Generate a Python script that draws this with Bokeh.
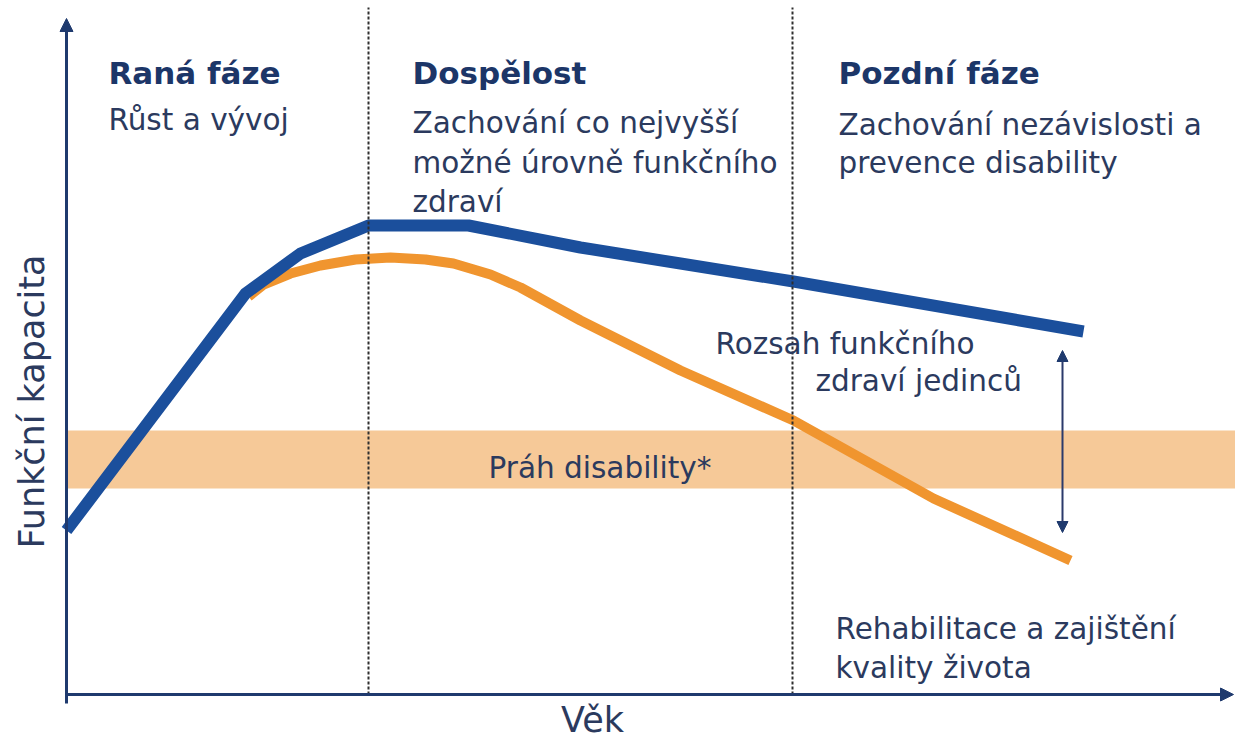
from bokeh.plotting import figure
from bokeh.models import Range1d, Arrow, NormalHead
from bokeh.core.properties import value
from bokeh.embed import file_html
from bokeh.resources import INLINE
import math

# ---------------- data (y = capacity, up) ----------------
# Individual with highest functional capacity (blue)
blue_age = [66, 245, 300, 368, 468, 580, 680, 793, 1083]
blue_cap = [211, 448, 488, 516, 516, 494, 478, 460, 410]

# Individual with declining capacity (orange)
orange_age = [248, 263, 290, 320, 355, 390, 425, 453, 490, 520, 580, 680, 793, 933, 1070]
orange_cap = [445, 457, 468, 476, 482, 484, 482, 478, 467, 454, 421, 371, 321, 243, 181]

# Disability threshold band
band_low, band_high = 253, 311
band_left, band_right = 66, 1240

# Phase boundaries
phase_bounds = [368, 792]
bound_top, bound_bottom = 734, 47

# Axes
axis_x0, axis_y0 = 66, 47
yaxis_bottom, yaxis_top = 38, 723
xaxis_right = 1233

# Range of functional health arrow
range_x, range_top, range_bottom = 1062, 391, 209

# Texts
phase_titles = ["Raná fáze", "Dospělost", "Pozdní fáze"]
phase_title_x = [108, 412, 838]
phase_title_y = [659, 659, 659]

body_texts = ["Růst a vývoj", "Zachování co nejvyšší", "možné úrovně funkčního", "zdraví",
              "Zachování nezávislosti a", "prevence disability",
              "Rozsah funkčního", "zdraví jedinců", "Práh disability*",
              "Rehabilitace a zajištění", "kvality života"]
body_x = [108, 412, 412, 412, 838, 838, 715, 815, 488, 835, 835]
body_y = [612, 609, 569, 530, 607, 569, 388, 351, 264, 103, 64]

x_label, x_label_x, x_label_y = "Věk", 592, 6
y_label, y_label_x, y_label_y = "Funkční kapacita", 43, 340

# ---------------- styles ----------------
FONT = "DejaVu Sans"
NAVY = "#1f3a6e"
TEXT_C = "#2b3a5e"
TITLE_C = "#1c3668"
BLUE = "#1b4f9c"
ORANGE = "#f0952f"
BAND = "#f6c998"

p = figure(width=1235, height=741, output_backend="svg", toolbar_location=None,
           x_range=Range1d(0, 1235), y_range=Range1d(0, 741),
           min_border=0, min_border_left=0, min_border_right=0,
           min_border_top=0, min_border_bottom=0)
p.axis.visible = False
p.grid.visible = False
p.outline_line_color = None
p.background_fill_color = "white"
p.border_fill_color = "white"

# band
p.quad(left=[band_left], right=[band_right], bottom=[band_low], top=[band_high],
       fill_color=BAND, line_color=None)

# curves
p.line(orange_age, orange_cap, line_color=ORANGE, line_width=10, line_join="round", line_cap="butt")
p.line(blue_age, blue_cap, line_color=BLUE, line_width=12, line_join="round", line_cap="butt")

# phase boundaries (dotted)
for bx in phase_bounds:
    p.line([bx, bx], [bound_bottom, bound_top], line_color="#2e2e2e", line_width=2, line_dash="3 2")

# axes with arrows
p.add_layout(Arrow(end=NormalHead(size=13, fill_color=NAVY, line_color=NAVY),
                   x_start=axis_x0, y_start=yaxis_bottom, x_end=axis_x0, y_end=yaxis_top,
                   line_color=NAVY, line_width=3))
p.add_layout(Arrow(end=NormalHead(size=13, fill_color=NAVY, line_color=NAVY),
                   x_start=axis_x0, y_start=axis_y0, x_end=xaxis_right, y_end=axis_y0,
                   line_color=NAVY, line_width=3))

# range arrow
p.add_layout(Arrow(start=NormalHead(size=11, fill_color=NAVY, line_color=NAVY),
                   end=NormalHead(size=11, fill_color=NAVY, line_color=NAVY),
                   x_start=range_x, y_start=range_bottom, x_end=range_x, y_end=range_top,
                   line_color="#2b3a6b", line_width=2))

# texts
p.text(x=phase_title_x, y=phase_title_y, text=phase_titles, y_offset=-10,
       text_font=value(FONT), text_font_size="31px", text_font_style="bold",
       text_color=TITLE_C, text_baseline="alphabetic", text_align="left")
p.text(x=body_x, y=body_y, text=body_texts, y_offset=-10,
       text_font=value(FONT), text_font_size="29.5px",
       text_color=TEXT_C, text_baseline="alphabetic", text_align="left")
p.text(x=[x_label_x], y=[x_label_y], text=[x_label], y_offset=-16,
       text_font=value(FONT), text_font_size="35px",
       text_color=TEXT_C, text_baseline="alphabetic", text_align="center")
p.text(x=[y_label_x], y=[y_label_y], text=[y_label], angle=math.pi / 2, x_offset=-12,
       text_font=value(FONT), text_font_size="35px",
       text_color=TEXT_C, text_baseline="alphabetic", text_align="center")

open("out.html", "w").write(file_html(p, INLINE))
